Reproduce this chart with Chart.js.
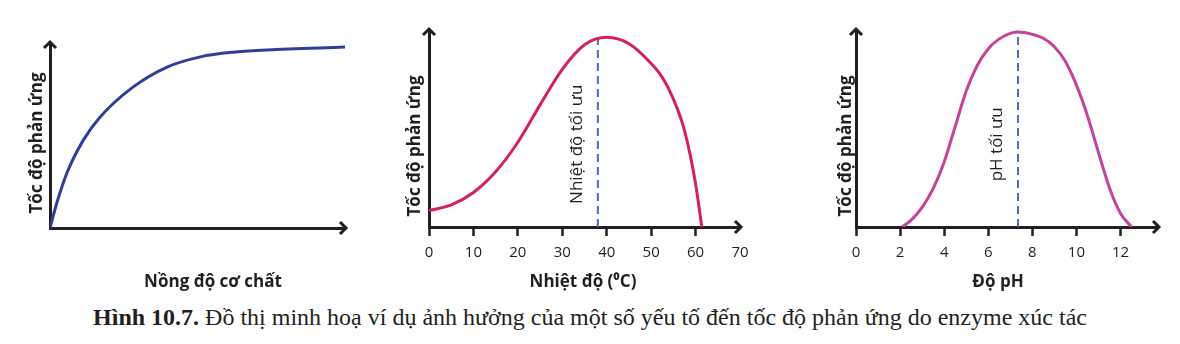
<!DOCTYPE html>
<html>
<head>
<meta charset="utf-8">
<script src="https://cdn.jsdelivr.net/npm/chart.js@4.4.1/dist/chart.umd.min.js"></script>
<style>
  body { margin: 0; background: #fff; width: 1180px; height: 344px; position: relative; overflow: hidden; }
  .panel { position: absolute; top: 0; height: 300px; }
  #caption { position: absolute; top: 303px; left: 0; width: 1180px; text-align: center;
    font-family: "Liberation Serif", serif; font-size: 24px; line-height: 28px; color: #231f20; }
</style>
</head>
<body>
<div class="panel" style="left:0;width:380px"><canvas id="c1"></canvas></div>
<div class="panel" style="left:380px;width:400px"><canvas id="c2"></canvas></div>
<div class="panel" style="left:800px;width:380px"><canvas id="c3"></canvas></div>
<div id="caption"><b>Hình 10.7.</b> Đồ thị minh hoạ ví dụ ảnh hưởng của một số yếu tố đến tốc độ phản ứng do enzyme xúc tác</div>

<script>
// Panel 1 - substrate concentration (no numeric ticks)
const substrateX = [0, 2.3, 5.8, 11.3, 17, 28, 39.7, 51, 62, 73.5, 100];
const substrateRate = [0, 13.5, 30, 47.5, 60, 76, 87, 92.5, 95, 96.2, 97.8];

// Panel 2 - temperature
const tempX = [0, 5, 10, 15, 20, 25, 30, 35, 40, 45, 50, 52.5, 55, 57.5, 60, 61.4];
const tempRate = [8.3, 11.2, 17.5, 28, 43, 62, 80, 92.5, 96.3, 93, 83, 76, 65, 49, 22, 0];
const tempTicks = [0, 10, 20, 30, 40, 50, 60, 70];
const tempOptimum = 38;
const tempOptimumRate = 96;

// Panel 3 - pH
const phX = [2.1, 2.5, 3, 3.5, 4, 4.5, 5, 5.5, 6, 6.5, 7, 7.35, 8, 8.5, 9, 9.5, 10, 10.5, 11, 11.5, 12, 12.5];
const phRate = [0, 3.5, 10, 19.5, 33, 51, 69, 82, 90.5, 95.5, 98.3, 99, 97.8, 95.8, 91.5, 84, 72, 56.5, 37.8, 19.8, 6.9, 0];
const phTicks = [0, 2, 4, 6, 8, 10, 12];
const phOptimum = 7.35;
const phOptimumRate = 99;

const axisColor = '#231f20';
const rateTitle = 'Tốc độ phản ứng';

// draws the arrow heads, axis titles and the rotated "optimum" label
const figurePlugin = {
  id: 'figure',
  afterDraw(chart, args, opts) {
    const ctx = chart.ctx;
    const a = chart.chartArea;
    ctx.save();
    ctx.strokeStyle = axisColor;
    ctx.lineWidth = 3;
    ctx.lineJoin = 'miter';
    ctx.lineCap = 'butt';
    // x arrow
    ctx.beginPath();
    ctx.moveTo(a.right - 5, a.bottom - 6);
    ctx.lineTo(a.right + 1, a.bottom);
    ctx.lineTo(a.right - 5, a.bottom + 6);
    ctx.stroke();
    // y arrow
    ctx.beginPath();
    ctx.moveTo(a.left - 6, a.top + 5);
    ctx.lineTo(a.left, a.top - 1);
    ctx.lineTo(a.left + 6, a.top + 5);
    ctx.stroke();

    ctx.fillStyle = axisColor;
    ctx.textAlign = 'center';
    ctx.textBaseline = 'middle';
    ctx.font = 'bold 17px "Open Sans"';
    ctx.fillText(opts.xTitle, opts.xTitleX, 282);

    ctx.save();
    ctx.translate(opts.yTitleX, opts.yTitleY);
    ctx.rotate(-Math.PI / 2);
    ctx.fillText(rateTitle, 0, 0);
    ctx.restore();

    if (opts.guide) {
      const gx = chart.scales.x.getPixelForValue(opts.guide.value) - 21;
      const gy = chart.scales.y.getPixelForValue(42);
      ctx.save();
      ctx.translate(gx, gy);
      ctx.rotate(-Math.PI / 2);
      ctx.font = '17px "Open Sans"';
      ctx.fillText(opts.guide.text, 0, 0);
      ctx.restore();
    }
    ctx.restore();
  }
};

function points(xs, ys) {
  return xs.map((x, i) => ({ x: x, y: ys[i] }));
}

function makeChart(id, cfg) {
  const datasets = [{
    data: points(cfg.xs, cfg.ys),
    borderColor: cfg.color,
    borderWidth: 3,
    pointRadius: 0,
    cubicInterpolationMode: 'monotone',
    fill: false
  }];
  if (cfg.guide) {
    datasets.push({
      data: [{ x: cfg.guide.value, y: 0 }, { x: cfg.guide.value, y: cfg.guide.rate }],
      borderColor: '#4b6cb7',
      borderWidth: 2,
      borderDash: [8, 5],
      pointRadius: 0
    });
  }
  return new Chart(document.getElementById(id), {
    type: 'line',
    data: { datasets: datasets },
    plugins: [figurePlugin],
    options: {
      responsive: true,
      maintainAspectRatio: false,
      animation: false,
      layout: { padding: { left: 0, top: cfg.top, right: cfg.right, bottom: 0 } },
      plugins: {
        legend: { display: false },
        tooltip: { enabled: false },
        figure: {
          xTitle: cfg.xTitle, xTitleX: cfg.xTitleX,
          yTitleX: cfg.yTitleX, yTitleY: cfg.yTitleY,
          guide: cfg.guide
        }
      },
      scales: {
        x: {
          type: 'linear',
          min: 0,
          max: cfg.xMax,
          afterBuildTicks: s => { if (cfg.ticks) s.ticks = cfg.ticks.map(v => ({ value: v })); },
          afterFit: s => { s.height = 300 - cfg.bottom; },
          border: { display: true, color: axisColor, width: 3 },
          grid: {
            display: !!cfg.ticks,
            drawOnChartArea: false,
            tickLength: 9,
            tickWidth: 2.5,
            tickColor: c => (c.tick && c.tick.value === cfg.xMax) ? 'rgba(0,0,0,0)' : axisColor
          },
          ticks: {
            display: !!cfg.ticks,
            color: axisColor,
            padding: 8,
            maxRotation: 0,
            font: { family: 'Open Sans', size: 15 }
          }
        },
        y: {
          min: 0,
          max: 100,
          afterFit: s => { s.width = cfg.yWidth; },
          border: { display: true, color: axisColor, width: 3 },
          grid: { display: false },
          ticks: { display: false }
        }
      }
    }
  });
}

makeChart('c1', {
  xs: substrateX, ys: substrateRate, color: '#2f3f98',
  xMax: 100, top: 43, right: 35, bottom: 228, yWidth: 50,
  xTitle: 'Nồng độ cơ chất', xTitleX: 213, yTitleX: 37, yTitleY: 143
});

makeChart('c2', {
  xs: tempX, ys: tempRate, color: '#d6205a', ticks: tempTicks,
  xMax: 70, top: 30, right: 40, bottom: 227, yWidth: 49,
  xTitle: 'Nhiệt độ (⁰C)', xTitleX: 203, yTitleX: 35, yTitleY: 146,
  guide: { value: tempOptimum, rate: tempOptimumRate, text: 'Nhiệt độ tối ưu' }
});

makeChart('c3', {
  xs: phX, ys: phRate, color: '#c5439a', ticks: phTicks,
  xMax: 13.7, top: 30, right: 22, bottom: 227, yWidth: 56,
  xTitle: 'Độ pH', xTitleX: 198, yTitleX: 46, yTitleY: 146,
  guide: { value: phOptimum, rate: phOptimumRate, text: 'pH tối ưu' }
});
</script>
</body>
</html>
